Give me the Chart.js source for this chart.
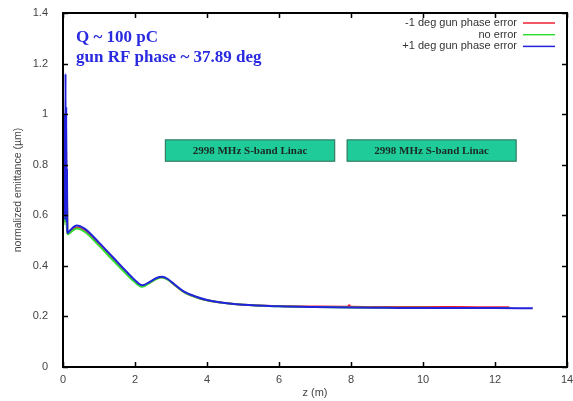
<!DOCTYPE html>
<html>
<head>
<meta charset="utf-8">
<script src="https://cdn.jsdelivr.net/npm/chart.js@4/dist/chart.umd.min.js"></script>
<style>
  html, body { margin: 0; padding: 0; background: #fff; }
  #wrap { width: 573px; height: 401px; }
</style>
</head>
<body>
<div id="wrap"><canvas id="canvas" width="573" height="401"></canvas></div>
<script>
// 凡例ラベル
var seriesNames = ['-1 deg gun phase error', 'no error', '+1 deg gun phase error'];

// z (m) と規格化エミッタンス (µm)
var zRed = [0, 0.01, 0.02, 0.03, 0.04, 0.05, 0.06, 0.07, 0.08, 0.09, 0.10, 0.11, 0.12, 0.13, 0.16, 0.25, 0.38, 0.6, 1.0, 1.4, 1.8, 2.0, 2.2, 2.4, 2.6, 2.75, 2.9, 3.1, 3.35, 3.7, 4.0, 4.5, 5.0, 6.0, 7.0, 7.9, 7.95, 8.0, 9, 10, 11, 12, 12.4];
var eRed = [0.58, 0.8, 0.57, 0.88, 0.6, 0.75, 0.6, 0.92, 0.58, 0.85, 0.56, 0.7, 0.54, 0.528, 0.53, 0.54, 0.552, 0.54, 0.485, 0.425, 0.366, 0.338, 0.32, 0.333, 0.35, 0.355, 0.347, 0.324, 0.297, 0.276, 0.264, 0.253, 0.246, 0.241, 0.239, 0.238, 0.244, 0.238, 0.237, 0.237, 0.237, 0.236, 0.236];

var zGreen = [0, 0.01, 0.02, 0.03, 0.04, 0.05, 0.06, 0.07, 0.08, 0.09, 0.10, 0.11, 0.12, 0.13, 0.16, 0.25, 0.38, 0.6, 1.0, 1.4, 1.8, 2.0, 2.2, 2.4, 2.6, 2.75, 2.9, 3.1, 3.35, 3.7, 4.0, 4.5, 5.0, 6.0, 7.0, 8.0, 9, 10, 11, 12, 12.4];
var eGreen = [0.57, 0.78, 0.56, 0.85, 0.58, 0.72, 0.58, 0.9, 0.57, 0.82, 0.55, 0.68, 0.535, 0.525, 0.527, 0.537, 0.548, 0.535, 0.48, 0.42, 0.362, 0.335, 0.317, 0.332, 0.349, 0.354, 0.347, 0.324, 0.297, 0.276, 0.264, 0.253, 0.246, 0.24, 0.237, 0.235, 0.234, 0.234, 0.233, 0.233, 0.233];

var zBlue = [0, 0.01, 0.02, 0.03, 0.04, 0.05, 0.06, 0.07, 0.08, 0.09, 0.10, 0.11, 0.12, 0.13, 0.16, 0.25, 0.38, 0.6, 1.0, 1.4, 1.8, 2.0, 2.2, 2.4, 2.6, 2.75, 2.9, 3.1, 3.35, 3.7, 4.0, 4.5, 5.0, 6.0, 7.0, 8.0, 9, 10, 11, 12, 13.05];
var eBlue = [0.6, 0.95, 0.58, 1.0, 0.62, 0.88, 0.6, 1.16, 0.58, 1.03, 0.57, 0.78, 0.54, 0.53, 0.535, 0.548, 0.56, 0.547, 0.492, 0.432, 0.372, 0.343, 0.323, 0.336, 0.352, 0.357, 0.349, 0.326, 0.299, 0.278, 0.265, 0.253, 0.246, 0.24, 0.237, 0.235, 0.234, 0.233, 0.233, 0.233, 0.232];

// 軸の目盛
var xTicks = [0, 2, 4, 6, 8, 10, 12, 14];
var yTicks = [0, 0.2, 0.4, 0.6, 0.8, 1, 1.2, 1.4];

// 注記
var noteLines = ['Q ~ 100 pC', 'gun RF phase ~ 37.89 deg'];
var linacLabel = '2998 MHz S-band Linac';
var linacBoxes = [[2.83, 7.56], [7.88, 12.6]]; // z 範囲

var colors = ['#ee2233', '#33dd33', '#2222dd'];

function toPoints(xs, ys) {
  return xs.map(function(x, i) { return {x: x, y: ys[i]}; });
}

// 枠・内向き目盛・凡例・注記を描く
var framePlugin = {
  id: 'frame',
  beforeDatasetsDraw: function(chart) {
    var ctx = chart.ctx;
    var xs = chart.scales.x, ys = chart.scales.y;
    ctx.save();
    linacBoxes.forEach(function(b) {
      var x1 = xs.getPixelForValue(b[0]), x2 = xs.getPixelForValue(b[1]);
      var y1 = ys.getPixelForValue(0.9), y2 = ys.getPixelForValue(0.812);
      ctx.fillStyle = '#1fcc99';
      ctx.fillRect(x1, y1, x2 - x1, y2 - y1);
      ctx.strokeStyle = '#3f6f5f';
      ctx.lineWidth = 1;
      ctx.strokeRect(x1 + 0.5, y1 + 0.5, x2 - x1 - 1, y2 - y1 - 1);
      ctx.fillStyle = '#1a2a22';
      ctx.font = 'bold 11px "Liberation Serif", serif';
      ctx.textAlign = 'center';
      ctx.textBaseline = 'middle';
      ctx.fillText(linacLabel, (x1 + x2) / 2, (y1 + y2) / 2 + 1);
    });
    ctx.restore();
  },
  afterDraw: function(chart) {
    var ctx = chart.ctx;
    var a = chart.chartArea;
    var xs = chart.scales.x, ys = chart.scales.y;
    ctx.save();
    ctx.strokeStyle = '#000';
    ctx.lineWidth = 1.5;
    var tl = 5;
    ctx.beginPath();
    xTicks.forEach(function(v) {
      var px = Math.round(xs.getPixelForValue(v)) + 0.5;
      ctx.moveTo(px, a.bottom); ctx.lineTo(px, a.bottom - tl);
      ctx.moveTo(px, a.top); ctx.lineTo(px, a.top + tl);
    });
    yTicks.forEach(function(v) {
      var py = Math.round(ys.getPixelForValue(v)) + 0.5;
      ctx.moveTo(a.left, py); ctx.lineTo(a.left + tl, py);
      ctx.moveTo(a.right, py); ctx.lineTo(a.right - tl, py);
    });
    ctx.stroke();
    ctx.lineWidth = 2;
    ctx.strokeRect(a.left, a.top, a.right - a.left, a.bottom - a.top);

    // 凡例
    ctx.font = '11px "Liberation Sans", Arial, sans-serif';
    ctx.textAlign = 'right';
    ctx.textBaseline = 'middle';
    seriesNames.forEach(function(name, i) {
      var y = 23 + i * 11.7;
      ctx.fillStyle = '#333';
      ctx.fillText(name, 517, y);
      ctx.strokeStyle = colors[i];
      ctx.lineWidth = 1.5;
      ctx.beginPath();
      ctx.moveTo(523, y); ctx.lineTo(555, y);
      ctx.stroke();
    });

    // 注記
    ctx.fillStyle = '#2a2ae0';
    ctx.font = 'bold 17px "Liberation Serif", "Times New Roman", serif';
    ctx.textAlign = 'left';
    ctx.textBaseline = 'alphabetic';
    ctx.fillText(noteLines[0], 76, 42);
    ctx.fillText(noteLines[1], 76, 62);
    ctx.restore();
  }
};

window.onload = function() {
  var ctx = document.getElementById('canvas').getContext('2d');
  var sets = [
    {data: toPoints(zRed, eRed), order: 2},
    {data: toPoints(zGreen, eGreen), order: 1},
    {data: toPoints(zBlue, eBlue), order: 0}
  ].map(function(d, i) {
    d.label = seriesNames[i];
    d.borderColor = colors[i];
    d.backgroundColor = colors[i];
    d.borderWidth = 2;
    d.pointRadius = 0;
    d.fill = false;
    d.cubicInterpolationMode = 'monotone';
    return d;
  });

  window.myChart = new Chart(ctx, {
    type: 'line',
    data: {datasets: sets},
    options: {
      responsive: false,
      animation: false,
      layout: {padding: {left: 0, right: 0, top: 13, bottom: 0}},
      plugins: {legend: {display: false}, tooltip: {enabled: false}},
      scales: {
        x: {
          type: 'linear', min: 0, max: 14,
          grid: {display: false, drawTicks: false},
          border: {display: false},
          afterBuildTicks: function(s) { s.ticks = xTicks.map(function(v) { return {value: v}; }); },
          afterFit: function(s) { s.height = 34; s.paddingRight = 6; s.paddingLeft = 0; },
          ticks: {color: '#444', padding: 6, font: {size: 11, family: '"Liberation Sans", Arial, sans-serif'}, maxRotation: 0},
          title: {display: true, text: 'z (m)', color: '#444', padding: {top: 0, bottom: 1}, font: {size: 11, family: '"Liberation Sans", Arial, sans-serif'}}
        },
        y: {
          min: 0, max: 1.4,
          grid: {display: false, drawTicks: false},
          border: {display: false},
          afterBuildTicks: function(s) { s.ticks = yTicks.map(function(v) { return {value: v}; }); },
          afterFit: function(s) { s.width = 63; s.paddingTop = 0; s.paddingBottom = 0; },
          ticks: {color: '#444', padding: 15, font: {size: 11, family: '"Liberation Sans", Arial, sans-serif'},
                  callback: function(v) { return +v.toFixed(1); }},
          title: {display: true, text: 'normalized emittance (µm)', color: '#444', padding: {top: 12, bottom: 0}, font: {size: 10.5, family: '"Liberation Sans", Arial, sans-serif'}}
        }
      }
    },
    plugins: [framePlugin]
  });
};
</script>
</body>
</html>
